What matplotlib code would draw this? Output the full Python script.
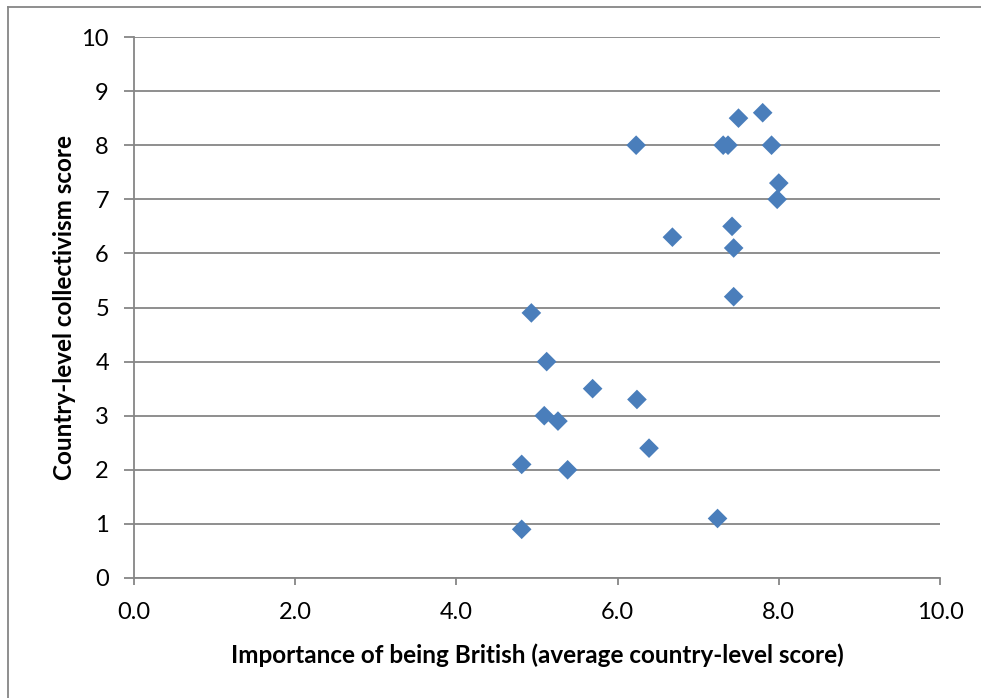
import matplotlib.pyplot as plt
from matplotlib.lines import Line2D

# Country-level scores
british_importance = [6.23, 7.31, 7.37, 7.50, 7.80, 7.91, 8.00, 7.98, 6.68, 7.42,
                      7.44, 7.44, 4.93, 5.12, 5.69, 6.24, 5.09, 5.26, 6.39, 4.81,
                      5.38, 7.24, 4.81]
collectivism = [8.0, 8.0, 8.0, 8.5, 8.6, 8.0, 7.3, 7.0, 6.3, 6.5,
                6.1, 5.2, 4.9, 4.0, 3.5, 3.3, 3.0, 2.9, 2.4, 2.1,
                2.0, 1.1, 0.9]

x_ticks = [0, 2, 4, 6, 8, 10]
y_ticks = list(range(0, 11))

grey = '#868686'
blue = '#4a7ebb'
plt.rcParams['font.family'] = ['Lato', 'DejaVu Sans']

fig = plt.figure(figsize=(9.81, 6.98), dpi=100)
ax = fig.add_axes([134 / 981, 1 - 578 / 698, 806 / 981, 541 / 698])

# outer chart border (only top and left edges fall inside the image)
fig.add_artist(Line2D([8 / 981, 1.0], [1 - 7 / 698] * 2, color=grey,
                      linewidth=1.3, transform=fig.transFigure))
fig.add_artist(Line2D([8 / 981] * 2, [0.0, 1 - 7 / 698], color=grey,
                      linewidth=1.3, transform=fig.transFigure))

ax.scatter(british_importance, collectivism, marker='D', s=100,
           color=blue, edgecolors='none', zorder=3, clip_on=False)

ax.set_xlim(0, 10)
ax.set_ylim(0, 10)
ax.set_xticks(x_ticks)
ax.set_xticklabels(['%.1f' % v for v in x_ticks])
ax.set_yticks(y_ticks)

ax.grid(True, axis='y', color=grey, linewidth=1.3)
ax.set_axisbelow(True)

for side in ['top', 'right']:
    ax.spines[side].set_visible(False)
for side in ['left', 'bottom']:
    ax.spines[side].set_color(grey)
    ax.spines[side].set_linewidth(1.3)

ax.tick_params(axis='both', colors=grey, labelcolor='black', labelsize=17,
               width=1.3, direction='out')
ax.tick_params(axis='y', length=7, pad=11)
ax.tick_params(axis='x', length=5, pad=12)

ax.set_xlabel('Importance of being British (average country-level score)',
              fontsize=17.5, fontweight='bold', labelpad=15)
ax.set_ylabel('Country-level collectivism score',
              fontsize=17.5, fontweight='bold', labelpad=4)

fig.savefig('out.png', dpi=100)
